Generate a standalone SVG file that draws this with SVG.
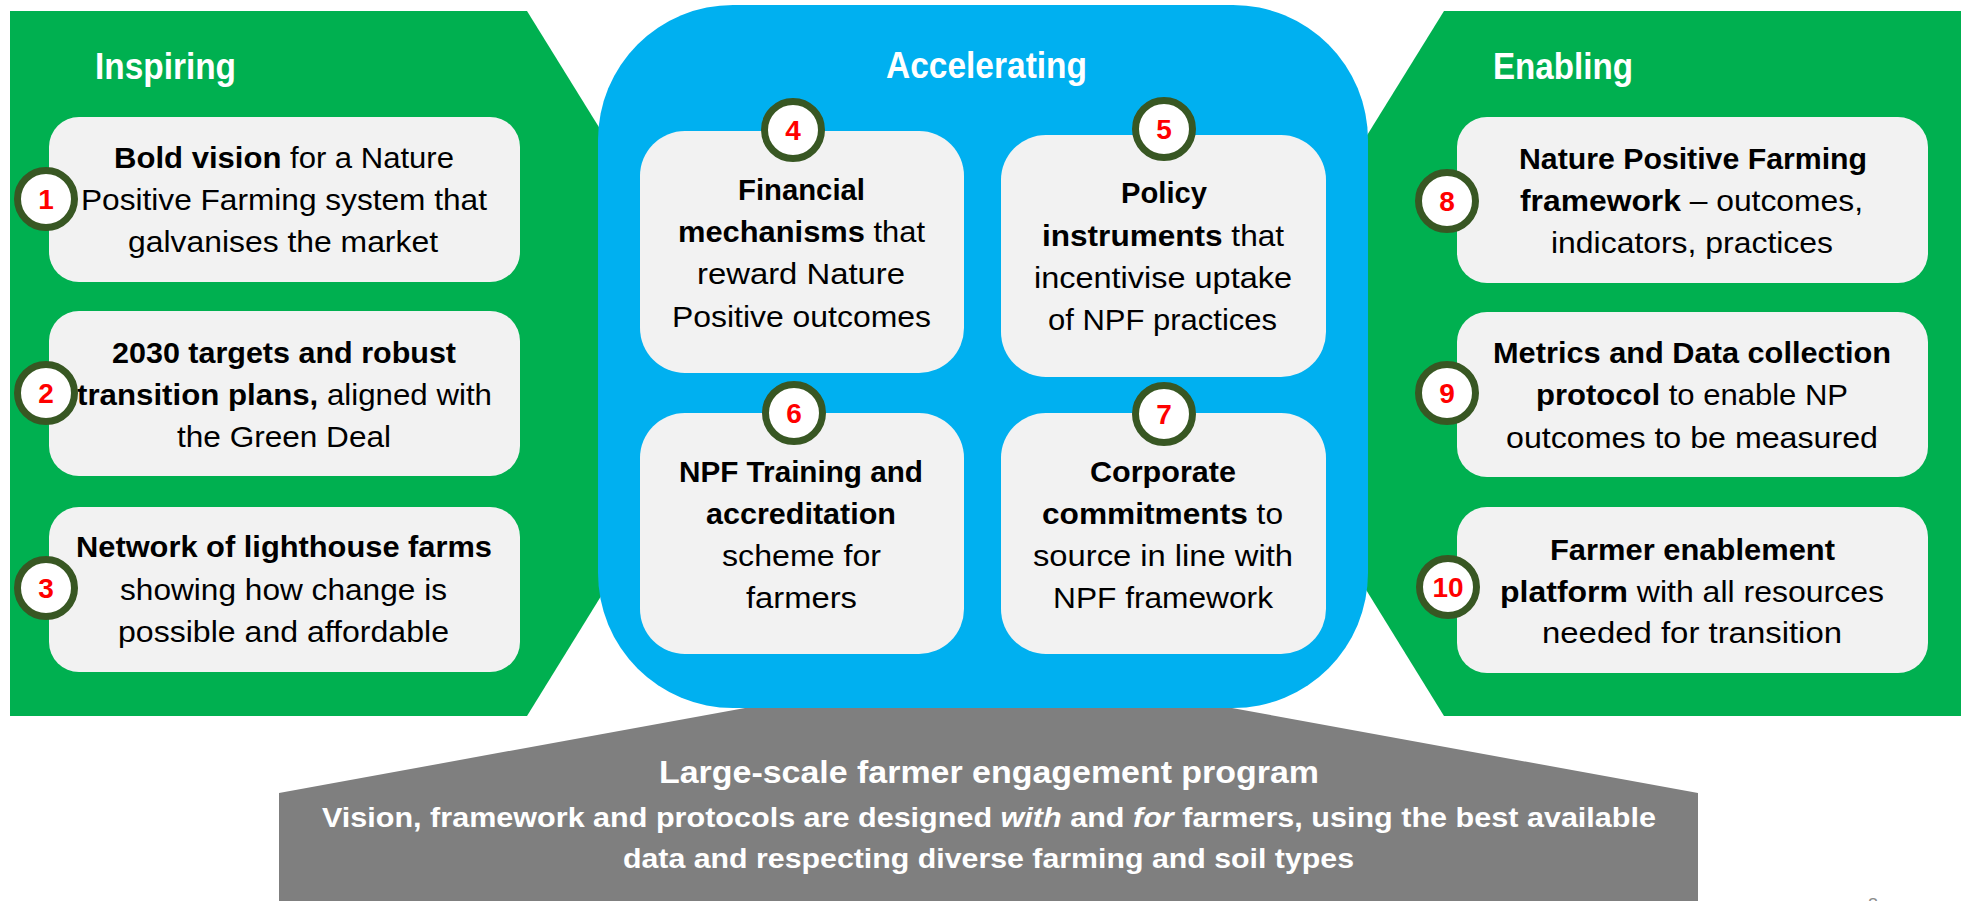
<svg xmlns="http://www.w3.org/2000/svg" width="1969" height="901" viewBox="0 0 1969 901">
<style>
.t{font-family:"Liberation Sans",Arial,sans-serif;font-size:30px;fill:#000}
.b{font-weight:bold}
.ttl{font-family:"Liberation Sans",Arial,sans-serif;font-size:36px;font-weight:bold;fill:#fff}
.g1{font-family:"Liberation Sans",Arial,sans-serif;font-size:32px;font-weight:bold;fill:#fff}
.g2{font-family:"Liberation Sans",Arial,sans-serif;font-size:28px;font-weight:bold;fill:#fff}
.box{fill:#F2F2F2}
.c{fill:#fff;stroke:#385723;stroke-width:7}
.n{font-family:"Liberation Sans",Arial,sans-serif;font-size:28px;font-weight:bold;fill:#FF0000;text-anchor:middle}
</style>
<rect width="1969" height="901" fill="#fff"/>
<g id="panel-inspiring">
<polygon points="10,11 527,11 745,363 527,716 10,716" fill="#00B050"/>
<text class="ttl" x="95" y="79" textLength="141" lengthAdjust="spacingAndGlyphs">Inspiring</text>
</g>
<g id="panel-enabling">
<polygon points="1961,11 1444,11 1226,363 1444,716 1961,716" fill="#00B050"/>
<text class="ttl" x="1493" y="79" textLength="140" lengthAdjust="spacingAndGlyphs">Enabling</text>
</g>
<g id="panel-engagement">
<polygon points="279,793 745,708 1232,708 1698,793 1698,901 279,901" fill="#7F7F7F"/>
<text class="g1" x="659" y="783" textLength="660" lengthAdjust="spacingAndGlyphs">Large-scale farmer engagement program</text>
<text class="g2" x="322" y="827" textLength="1334" lengthAdjust="spacingAndGlyphs">Vision, framework and protocols are designed <tspan font-style="italic">with</tspan> and <tspan font-style="italic">for</tspan> farmers, using the best available</text>
<text class="g2" x="623" y="868" textLength="731" lengthAdjust="spacingAndGlyphs">data and respecting diverse farming and soil types</text>
</g>
<g id="panel-accelerating">
<rect x="598" y="5" width="770" height="703" rx="135" ry="135" fill="#00B0F0"/>
<text class="ttl" x="886" y="78" textLength="201" lengthAdjust="spacingAndGlyphs">Accelerating</text>
</g>
<g id="connectors"></g>
<g id="node1">
<rect class="box" x="49" y="117" width="471" height="165" rx="30"/>
<text class="t" x="114" y="168" textLength="340" lengthAdjust="spacingAndGlyphs"><tspan class="b">Bold vision</tspan> for a Nature</text>
<text class="t" x="81" y="210" textLength="406" lengthAdjust="spacingAndGlyphs">Positive Farming system that</text>
<text class="t" x="128" y="252" textLength="310" lengthAdjust="spacingAndGlyphs">galvanises the market</text>
<circle class="c" cx="46" cy="199" r="28.5"/><text class="n" x="46" y="209">1</text>
</g>
<g id="node2">
<rect class="box" x="49" y="311" width="471" height="165" rx="30"/>
<text class="t b" x="112" y="363" textLength="344" lengthAdjust="spacingAndGlyphs">2030 targets and robust</text>
<text class="t" x="77" y="405" textLength="415" lengthAdjust="spacingAndGlyphs"><tspan class="b">transition plans,</tspan> aligned with</text>
<text class="t" x="177" y="447" textLength="214" lengthAdjust="spacingAndGlyphs">the Green Deal</text>
<circle class="c" cx="46" cy="393" r="28.5"/><text class="n" x="46" y="403">2</text>
</g>
<g id="node3">
<rect class="box" x="49" y="507" width="471" height="165" rx="30"/>
<text class="t b" x="76" y="557" textLength="416" lengthAdjust="spacingAndGlyphs">Network of lighthouse farms</text>
<text class="t" x="120" y="600" textLength="327" lengthAdjust="spacingAndGlyphs">showing how change is</text>
<text class="t" x="118" y="642" textLength="331" lengthAdjust="spacingAndGlyphs">possible and affordable</text>
<circle class="c" cx="46" cy="588" r="28.5"/><text class="n" x="46" y="598">3</text>
</g>
<g id="node4">
<rect class="box" x="640" y="131" width="324" height="242" rx="45"/>
<text class="t b" x="738" y="200" textLength="127" lengthAdjust="spacingAndGlyphs">Financial</text>
<text class="t" x="678" y="242" textLength="247" lengthAdjust="spacingAndGlyphs"><tspan class="b">mechanisms</tspan> that</text>
<text class="t" x="697" y="284" textLength="208" lengthAdjust="spacingAndGlyphs">reward Nature</text>
<text class="t" x="672" y="327" textLength="259" lengthAdjust="spacingAndGlyphs">Positive outcomes</text>
<circle class="c" cx="793" cy="130" r="28.5"/><text class="n" x="793" y="140">4</text>
</g>
<g id="node5">
<rect class="box" x="1001" y="135" width="325" height="242" rx="45"/>
<text class="t b" x="1121" y="203" textLength="86" lengthAdjust="spacingAndGlyphs">Policy</text>
<text class="t" x="1042" y="246" textLength="242" lengthAdjust="spacingAndGlyphs"><tspan class="b">instruments</tspan> that</text>
<text class="t" x="1034" y="288" textLength="258" lengthAdjust="spacingAndGlyphs">incentivise uptake</text>
<text class="t" x="1048" y="330" textLength="229" lengthAdjust="spacingAndGlyphs">of NPF practices</text>
<circle class="c" cx="1164" cy="129" r="28.5"/><text class="n" x="1164" y="139">5</text>
</g>
<g id="node6">
<rect class="box" x="640" y="413" width="324" height="241" rx="45"/>
<text class="t b" x="679" y="482" textLength="244" lengthAdjust="spacingAndGlyphs">NPF Training and</text>
<text class="t b" x="706" y="524" textLength="190" lengthAdjust="spacingAndGlyphs">accreditation</text>
<text class="t" x="722" y="566" textLength="159" lengthAdjust="spacingAndGlyphs">scheme for</text>
<text class="t" x="746" y="608" textLength="111" lengthAdjust="spacingAndGlyphs">farmers</text>
<circle class="c" cx="794" cy="413" r="28.5"/><text class="n" x="794" y="423">6</text>
</g>
<g id="node7">
<rect class="box" x="1001" y="413" width="325" height="241" rx="45"/>
<text class="t b" x="1090" y="482" textLength="146" lengthAdjust="spacingAndGlyphs">Corporate</text>
<text class="t" x="1042" y="524" textLength="241" lengthAdjust="spacingAndGlyphs"><tspan class="b">commitments</tspan> to</text>
<text class="t" x="1033" y="566" textLength="260" lengthAdjust="spacingAndGlyphs">source in line with</text>
<text class="t" x="1053" y="608" textLength="220" lengthAdjust="spacingAndGlyphs">NPF framework</text>
<circle class="c" cx="1164" cy="414" r="28.5"/><text class="n" x="1164" y="424">7</text>
</g>
<g id="node8">
<rect class="box" x="1457" y="117" width="471" height="166" rx="30"/>
<text class="t b" x="1519" y="169" textLength="348" lengthAdjust="spacingAndGlyphs">Nature Positive Farming</text>
<text class="t" x="1520" y="211" textLength="343" lengthAdjust="spacingAndGlyphs"><tspan class="b">framework</tspan> – outcomes,</text>
<text class="t" x="1551" y="253" textLength="282" lengthAdjust="spacingAndGlyphs">indicators, practices</text>
<circle class="c" cx="1447" cy="201" r="28.5"/><text class="n" x="1447" y="211">8</text>
</g>
<g id="node9">
<rect class="box" x="1457" y="312" width="471" height="165" rx="30"/>
<text class="t b" x="1493" y="363" textLength="398" lengthAdjust="spacingAndGlyphs">Metrics and Data collection</text>
<text class="t" x="1536" y="405" textLength="312" lengthAdjust="spacingAndGlyphs"><tspan class="b">protocol</tspan> to enable NP</text>
<text class="t" x="1506" y="448" textLength="372" lengthAdjust="spacingAndGlyphs">outcomes to be measured</text>
<circle class="c" cx="1447" cy="393" r="28.5"/><text class="n" x="1447" y="403">9</text>
</g>
<g id="node10">
<rect class="box" x="1457" y="507" width="471" height="166" rx="30"/>
<text class="t b" x="1550" y="560" textLength="285" lengthAdjust="spacingAndGlyphs">Farmer enablement</text>
<text class="t" x="1500" y="602" textLength="384" lengthAdjust="spacingAndGlyphs"><tspan class="b">platform</tspan> with all resources</text>
<text class="t" x="1542" y="643" textLength="300" lengthAdjust="spacingAndGlyphs">needed for transition</text>
<circle class="c" cx="1448" cy="587" r="28.5"/><text class="n" x="1448" y="597">10</text>
</g>
<text x="1873" y="911" font-family="Liberation Sans, Arial, sans-serif" font-size="18" fill="#8C8C8C" text-anchor="middle">8</text>
</svg>
